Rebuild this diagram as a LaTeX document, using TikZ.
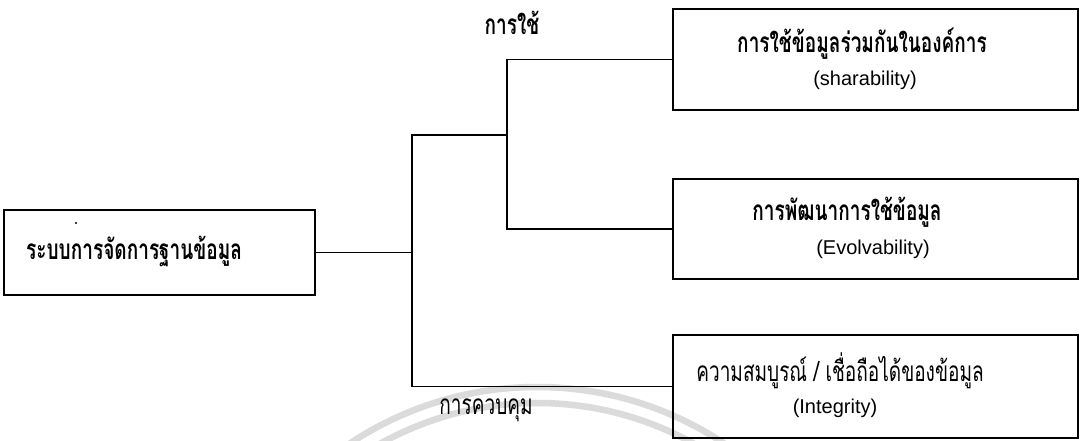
\documentclass[tikz,border=0pt]{standalone}
\usepackage{fontspec}
\setmainfont{Liberation Sans}
\newfontfamily\thaifont[Script=Thai,FakeStretch=0.68]{Loma}
\begin{document}
\begin{tikzpicture}[x=1pt,y=-1pt,
  box/.style={draw=black,line width=1.2pt,rectangle,inner sep=0pt},
  wire/.style={draw=black,line width=1.2pt},
  thb/.style={font=\thaifont\bfseries\fontsize{28}{30}\selectfont,inner sep=0pt},
  thr/.style={font=\thaifont\fontsize{28}{30}\selectfont,inner sep=0pt},
  lat/.style={font=\fontsize{20}{22}\selectfont,inner sep=0pt},
  sealarc/.style={draw=black!14,line width=6.5pt}]
\useasboundingbox (0,0) rectangle (1080,441);
\fill[white] (0,0) rectangle (1080,441);

% faint circular seal behind the chart
\begin{scope}
  \clip (0,0) rectangle (1080,441);
  \path[sealarc] (537,725) circle [radius=338pt];
  \path[sealarc] (537,725) circle [radius=322pt];
\end{scope}

% boxes
\node[box,minimum width=311pt,minimum height=85pt] (root) at (159.5,252.5) {};
\node[box,minimum width=405pt,minimum height=101pt] (share) at (875.5,59.5) {};
\node[box,minimum width=405pt,minimum height=100pt] (evolve) at (875.5,229) {};
\node[box,minimum width=405pt,minimum height=103pt] (integ) at (875.5,386.5) {};

% box texts
\node[thb,anchor=west] (roottxt) at (26,251) {ระบบการจัดการฐานข้อมูล};
\fill (76,223) circle [radius=1.2pt];
\node[thb] (sharetxt) at (862,44) {การใช้ข้อมูลร่วมกันในองค์การ};
\node[lat] (shareen) at (865,80) {(sharability)};
\node[thb] (evolvetxt) at (847,212) {การพัฒนาการใช้ข้อมูล};
\node[lat] (evolveen) at (873,249) {(Evolvability)};
\node[thr] (integtxt) at (840,371) {ความสมบูรณ์ / เชื่อถือได้ของข้อมูล};
\node[lat] (integen) at (835,408) {(Integrity)};

% branch labels
\node[thb] (uselbl) at (512,23) {การใช้};
\node[thr] (ctrllbl) at (486,410) {การควบคุม};

% tree of connectors
\coordinate (trunkmid) at (412,252.5);
\coordinate (trunktop) at (412,135);
\coordinate (trunkbot) at (412,386.5);
\coordinate (forkmid) at (507,135);
\coordinate (forktop) at (507,59.5);
\coordinate (forkbot) at (507,229);

\draw[wire] (root.east) -- (trunkmid);
\draw[wire] (forkmid) -- (trunktop) -- (trunkbot) -- (integ.west);
\draw[wire] (share.west) -- (forktop) -- (forkbot) -- (evolve.west);
\end{tikzpicture}
\end{document}
